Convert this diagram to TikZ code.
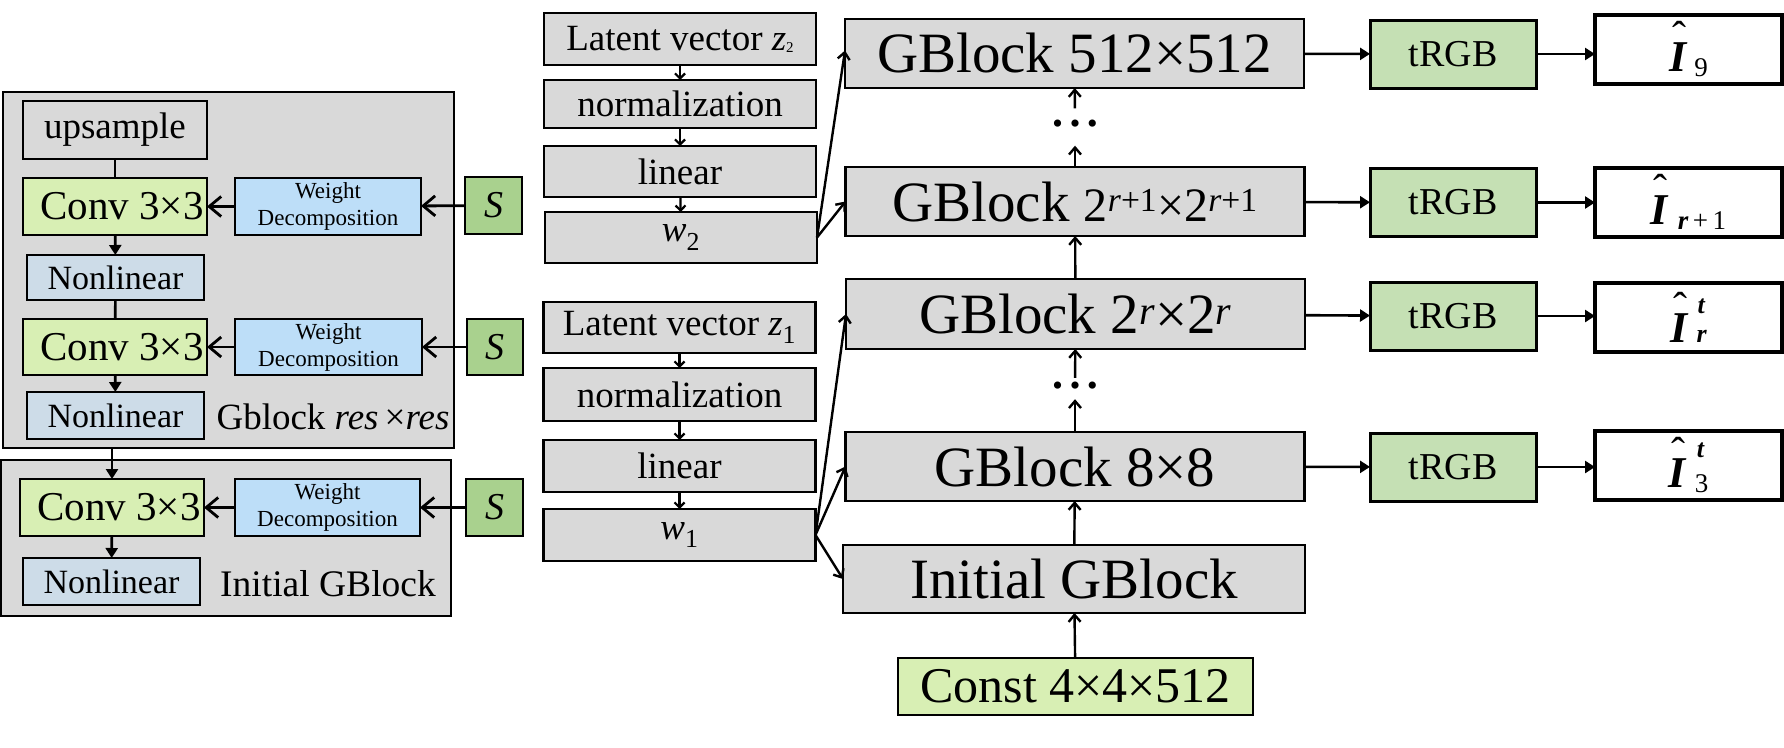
\documentclass[tikz,border=0pt]{standalone}
\usepackage{fontspec}
\setmainfont{Liberation Serif}
\usetikzlibrary{arrows.meta}
\definecolor{gfill}{HTML}{D9D9D9}
\definecolor{convc}{HTML}{D8EFB4}
\definecolor{wdc}{HTML}{BDDEF8}
\definecolor{nlc}{HTML}{CDDCE8}
\definecolor{sgc}{HTML}{A9D18E}
\definecolor{trgbc}{HTML}{C5E0B4}
\newcommand\fsz[1]{\fontsize{#1}{#1}\selectfont}
\newcommand\Ih{\makebox[0pt][l]{\hspace{3pt}\raisebox{21pt}{\fsz{42}\mdseries\upshape ˆ}}{\bfseries\itshape I}}
\newcommand\bit[1]{{\bfseries\itshape #1}}
\tikzset{
  box/.style={draw=black, line width=2.6pt, rectangle, inner sep=0pt, outer sep=0pt, align=center},
  outerbox/.style={draw=black, line width=2pt, fill=gfill, rectangle, inner sep=0pt, outer sep=0pt},
  wdbox/.style={box, fill=wdc, font=\fontsize{23}{27}\selectfont},
  plain/.style={line width=2.6pt},
  tri/.style={line width=2.6pt, -{Triangle[length=10pt,width=12pt]}},
  barbbig/.style={line width=2.8pt, -{Straight Barb[length=12pt,width=20pt]}},
  barbsm/.style={line width=2.4pt, -{Straight Barb[length=7pt,width=12pt]}},
  barbxs/.style={line width=2.2pt, -{Straight Barb[length=5pt,width=10pt]}},
}
\begin{document}
\begin{tikzpicture}[x=1pt,y=-1pt]
\useasboundingbox (0,0) rectangle (1784,747);
% ---------------- left panel ----------------
\node[outerbox, minimum width=451pt, minimum height=356pt] (gout) at (228.5,270) {};
\node[outerbox, minimum width=450pt, minimum height=156pt] (iout) at (226,538) {};
\node[box, fill=gfill, minimum width=184pt, minimum height=58pt, font=\fsz{37}] (up) at (115,130) {upsample};
\node[box, fill=convc, minimum width=184pt, minimum height=57pt, font=\fsz{41}] (c1) at (115,206.5) {\hspace{14pt}Conv 3×3};
\node[wdbox, minimum width=186pt, minimum height=57pt] (wd1) at (328,206.5) {Weight\\Decomposition};
\node[box, fill=sgc, minimum width=57pt, minimum height=57pt, font=\fsz{38}] (s1) at (493.5,205.5) {\textit{S}};
\node[box, fill=nlc, minimum width=177pt, minimum height=45pt, font=\fsz{34}] (n1) at (115.5,277.5) {Nonlinear};
\node[box, fill=convc, minimum width=184pt, minimum height=56pt, font=\fsz{41}] (c2) at (115,347) {\hspace{14pt}Conv 3×3};
\node[wdbox, minimum width=187pt, minimum height=56pt] (wd2) at (328.5,347) {Weight\\Decomposition};
\node[box, fill=sgc, minimum width=56pt, minimum height=56pt, font=\fsz{38}] (s2) at (495,347) {\textit{S}};
\node[box, fill=nlc, minimum width=177pt, minimum height=47pt, font=\fsz{34}] (n2) at (115.5,415.5) {Nonlinear};
\node[anchor=base, inner sep=0pt, font=\fsz{37}] (lab1) at (333,429) {Gblock \textit{res}\,×\textit{res}};
\node[box, fill=convc, minimum width=184pt, minimum height=57pt, font=\fsz{41}] (c3) at (112,507.5) {\hspace{14pt}Conv 3×3};
\node[wdbox, minimum width=185pt, minimum height=57pt] (wd3) at (327.5,507.5) {Weight\\Decomposition};
\node[box, fill=sgc, minimum width=57pt, minimum height=57pt, font=\fsz{38}] (s3) at (494.5,507.5) {\textit{S}};
\node[box, fill=nlc, minimum width=177pt, minimum height=47pt, font=\fsz{34}] (n3) at (111.5,581.5) {Nonlinear};
\node[anchor=base, inner sep=0pt, font=\fsz{37.5}] (lab2) at (328,596) {Initial GBlock};
\draw[plain] (up) -- (c1);
\draw[tri] (c1) -- (n1);
\draw[plain] (n1) -- (c2);
\draw[tri] (c2) -- (n2);
\draw[tri] (c3) -- (n3);
\draw[tri] (c3.north |- gout.south) -- (c3.north);
\draw[barbbig] (wd1) -- (c1);
\draw[barbbig] (wd2) -- (c2);
\draw[barbbig] (wd3) -- (c3);
\draw[barbbig] (s1) -- (wd1);
\draw[barbbig] (s2) -- (wd2);
\draw[barbbig] (s3) -- (wd3);
% ---------------- middle column ----------------
\tikzset{midbox/.style={box, line width=2.4pt, fill=gfill, minimum width=272pt, font=\fsz{37}}}
\node[midbox, minimum height=52pt] (z2) at (680,39) {Latent vector \textit{z}{\fsz{15}\raisebox{-2pt}{2}}};
\node[midbox, minimum height=48pt] (nm2) at (680,104) {normalization};
\node[midbox, minimum height=51pt] (li2) at (680,171.5) {linear};
\node[midbox, minimum height=51pt] (w2) at (681,237.5) {\textit{w}\textsubscript{2}};
\node[midbox, minimum height=51pt] (z1) at (679.5,327.5) {Latent vector \textit{z}\textsubscript{1}};
\node[midbox, minimum height=53pt] (nm1) at (679.5,394.5) {normalization};
\node[midbox, minimum height=52pt] (li1) at (679.5,466) {linear};
\node[midbox, minimum height=52pt] (w1) at (679.5,535) {\textit{w}\textsubscript{1}};
\draw[barbxs] (z2) -- (nm2);
\draw[barbxs] (nm2) -- (li2);
\draw[barbxs] (li2) -- (w2);
\draw[barbxs] (z1) -- (nm1);
\draw[barbxs] (nm1) -- (li1);
\draw[barbxs] (li1) -- (w1);
% ---------------- generator column ----------------
\tikzset{gbox/.style={box, line width=2.4pt, fill=gfill, minimum width=459pt, minimum height=69pt, font=\fsz{57}}}
\node[gbox] (g512) at (1074.5,53.5) {GBlock 512×512};
\node[gbox] (gr1) at (1075,201.5) {GBlock {\fsz{48}2\textsuperscript{\itshape r\upshape+1}×2\textsuperscript{\itshape r\upshape+1}}};
\node[gbox, minimum height=70pt] (gr) at (1075.5,314) {GBlock 2\textsuperscript{\itshape r}×2\textsuperscript{\itshape r}};
\node[gbox] (g8) at (1075,466.5) {GBlock 8×8};
\node[gbox, minimum width=462pt, minimum height=68pt] (gi) at (1074,579) {Initial GBlock};
\node[box, line width=2.4pt, fill=convc, minimum width=355pt, minimum height=57pt, font=\fsz{50}] (cst) at (1075.5,686.5) {Const 4×4×512};
\node[inner sep=0pt, minimum height=37pt, font=\fsz{30}] (d1) at (1075,127) {•\kern7pt•\kern7pt•};
\node[inner sep=0pt, minimum height=21pt, font=\fsz{30}] (d2) at (1075,388.5) {•\kern7pt•\kern7pt•};
\draw[barbsm] (d1) -- (g512);
\draw[barbsm] (gr1) -- (d1);
\draw[barbsm] (gr) -- (gr1);
\draw[barbsm] (d2) -- (gr);
\draw[barbsm] (g8) -- (d2);
\draw[barbsm] (gi) -- (g8);
\draw[barbsm] (cst) -- (gi);
\draw[barbsm] (w2.east) -- ([yshift=3pt]g512.west);
\draw[barbsm] (w2.east) -- (gr1.west);
\draw[barbsm] (w1.east) -- (gr.west);
\draw[barbsm] (w1.east) -- (g8.west);
\draw[barbsm] (w1.east) -- (gi.west);
% ---------------- outputs ----------------
\tikzset{tbox/.style={box, line width=3pt, fill=trgbc, minimum width=166pt, minimum height=68pt, font=\fsz{38}},
         obox/.style={box, line width=4pt, fill=white, minimum width=187pt, minimum height=69pt, font=\fsz{44}}}
\node[tbox] (t1) at (1453,54) {tRGB};
\node[tbox] (t2) at (1453,202.5) {tRGB};
\node[tbox] (t3) at (1453,316) {tRGB};
\node[tbox] (t4) at (1453,467) {tRGB};
\node[obox] (o1) at (1688.5,49.5) {\Ih\hspace{8pt}\raisebox{-5pt}{\fsz{27}9}};
\node[obox] (o2) at (1688.5,202) {\Ih\hspace{10pt}\raisebox{-5pt}{\fsz{27}\bit{r}\,+\,1}};
\node[obox] (o3) at (1688.5,317) {\Ih\hspace{9pt}\makebox[0pt][l]{\hspace{1pt}\raisebox{29pt}{\fsz{26}\bit{t}}}{\fsz{26}\bit{r}}};
\node[obox] (o4) at (1688.5,465.5) {\Ih\hspace{9pt}\makebox[0pt][l]{\hspace{2pt}\raisebox{30pt}{\fsz{26}\bit{t}}}\raisebox{-5pt}{\fsz{27}3}};
\draw[tri] (g512) -- (t1);
\draw[tri] (gr1) -- (t2);
\draw[tri] (gr) -- (t3);
\draw[tri] (g8) -- (t4);
\draw[tri] (t1) -- (o1.west |- t1);
\draw[tri] (t2) -- (o2.west |- t2);
\draw[tri] (t3) -- (o3.west |- t3);
\draw[tri] (t4) -- (o4.west |- t4);
\end{tikzpicture}
\end{document}
